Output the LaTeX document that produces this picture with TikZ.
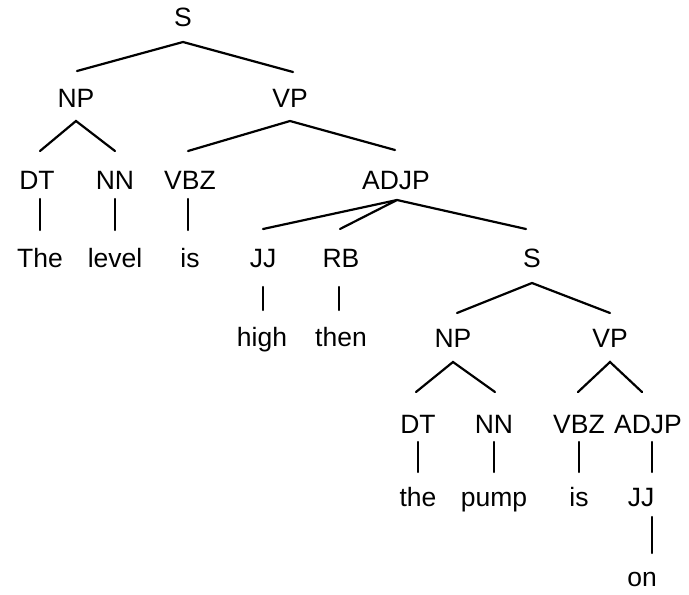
\documentclass[tikz,border=0pt]{standalone}
\usepackage{fontspec}
\setmainfont{Liberation Sans}
\usetikzlibrary{calc}
\begin{document}
\begin{tikzpicture}[x=1pt,y=-1pt,
  lbl/.style={font=\fontsize{26.5}{31}\selectfont, inner sep=0pt, anchor=base},
  edge/.style={line width=2.2pt, line cap=round}]
\useasboundingbox (0,0) rectangle (689,595);
% labels
\node[lbl] (S) at (183,26) {S};
\node[lbl] (NP) at (76,107) {NP};
\node[lbl] (VP) at (290,107) {VP};
\node[lbl] (DT) at (37,189) {DT};
\node[lbl] (NN) at (115,189) {NN};
\node[lbl] (VBZ) at (190,189) {VBZ};
\node[lbl] (ADJP) at (396,189) {ADJP};
\node[lbl] (The) at (40,267) {The};
\node[lbl] (level) at (115,267) {level};
\node[lbl] (is) at (190,267) {is};
\node[lbl] (JJ) at (263,267) {JJ};
\node[lbl] (RB) at (341,267) {RB};
\node[lbl] (S2) at (532,267) {S};
\node[lbl] (high) at (262,346) {high};
\node[lbl] (then) at (341,346) {then};
\node[lbl] (NP2) at (453,347) {NP};
\node[lbl] (VP2) at (610,347) {VP};
\node[lbl] (DT2) at (418,433) {DT};
\node[lbl] (NN2) at (494,433) {NN};
\node[lbl] (VBZ2) at (579,433) {VBZ};
\node[lbl] (ADJP2) at (648,433) {ADJP};
\node[lbl] (the) at (418,506) {the};
\node[lbl] (pump) at (494,506) {pump};
\node[lbl] (is2) at (579,506) {is};
\node[lbl] (JJ2) at (641,506) {JJ};
\node[lbl] (on) at (642,586) {on};
% edges
\draw[edge] ($(NP.base)+(1,-36)$) -- ($(S.base)+(0,16)$) -- ($(VP.base)+(3,-35)$);
\draw[edge] ($(DT.base)+(3,-38)$) -- ($(NP.base)+(0,14)$) -- ($(NN.base)+(0,-38)$);
\draw[edge] ($(VBZ.base)+(-2,-38)$) -- ($(VP.base)+(0,14)$) -- ($(ADJP.base)+(-1,-39)$);
\draw[edge] ($(DT.base)+(3,10)$) -- ($(The.base)+(0,-37)$);
\draw[edge] ($(NN.base)+(0,10)$) -- ($(level.base)+(0,-37)$);
\draw[edge] ($(VBZ.base)+(-2,10)$) -- ($(is.base)+(-2,-37)$);
\draw[edge] ($(JJ.base)+(0,-38)$) -- ($(ADJP.base)+(1,11)$) -- ($(S2.base)+(-6,-38)$);
\draw[edge] ($(ADJP.base)+(1,11)$) -- ($(RB.base)+(-1,-38)$);
\draw[edge] ($(JJ.base)+(0,20)$) -- ($(high.base)+(1,-36)$);
\draw[edge] ($(RB.base)+(-2,20)$) -- ($(then.base)+(-2,-36)$);
\draw[edge] ($(NP2.base)+(4,-34)$) -- ($(S2.base)+(0,16)$) -- ($(VP2.base)+(0,-34)$);
\draw[edge] ($(DT2.base)+(-2,-41)$) -- ($(NP2.base)+(0,15)$) -- ($(NN2.base)+(1,-41)$);
\draw[edge] ($(VBZ2.base)+(-1,-41)$) -- ($(VP2.base)+(0,15)$) -- ($(ADJP2.base)+(-6,-41)$);
\draw[edge] ($(DT2.base)+(0,9)$) -- ($(the.base)+(0,-34)$);
\draw[edge] ($(NN2.base)+(0,9)$) -- ($(pump.base)+(0,-34)$);
\draw[edge] ($(VBZ2.base)+(0,9)$) -- ($(is2.base)+(0,-34)$);
\draw[edge] ($(ADJP2.base)+(4,9)$) -- ($(JJ2.base)+(11,-34)$);
\draw[edge] ($(JJ2.base)+(11,11)$) -- ($(on.base)+(10,-33)$);
\end{tikzpicture}
\end{document}
